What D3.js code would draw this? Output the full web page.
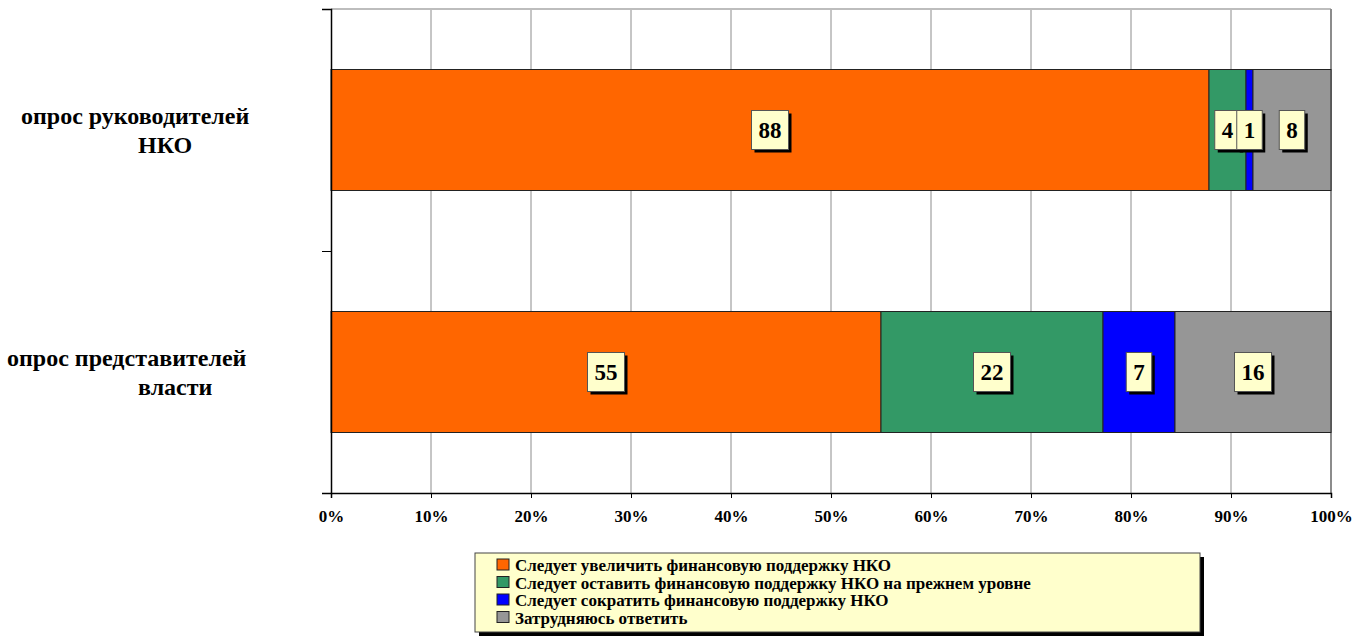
<!DOCTYPE html>
<html>
<head>
<meta charset="utf-8">
<script src="https://cdn.jsdelivr.net/npm/d3@7"></script>
<style>
  body { margin: 0; background: #fff; }
  svg { display: block; }
  svg text { font-family: "Liberation Serif", "Times New Roman", "DejaVu Serif", serif; font-weight: bold; }
</style>
</head>
<body>
<svg width="1364" height="637"></svg>
<script>
// categories, top to bottom
const groups = ["опрос руководителей НКО", "опрос представителей власти"];
const groupLines = [["опрос руководителей", "НКО"], ["опрос представителей", "власти"]];
const series = [
  "Следует увеличить финансовую поддержку НКО",
  "Следует оставить финансовую поддержку НКО на прежнем уровне",
  "Следует сократить финансовую поддержку НКО",
  "Затрудняюсь ответить"
];
// share of each answer (percent)
const nkoValues = [87.8, 3.7, 0.7, 7.8];
const govValues = [55.0, 22.2, 7.2, 15.6];
// printed labels
const nkoLabels = [88, 4, 1, 8];
const govLabels = [55, 22, 7, 16];
const tickValues = [0, 10, 20, 30, 40, 50, 60, 70, 80, 90, 100];
const colors = ["#FF6600", "#339966", "#0000FF", "#969696"];

const svg = d3.select("svg");
const pL = 331, pR = 1331, pT = 9, pB = 493;

const x = d3.scaleLinear().domain([0, 100]).range([pL, pR]);
const y = d3.scaleBand().domain(groups).range([pT, pB]).paddingInner(0.5).paddingOuter(0.25);
const yEdge = d3.scaleLinear().domain([0, groups.length]).range([pT, pB]);

const rows = [
  { name: groups[0], values: nkoValues, labels: nkoLabels },
  { name: groups[1], values: govValues, labels: govLabels }
];

// gridlines + plot border (top, right)
svg.append("g")
  .selectAll("line")
  .data(tickValues.slice(1))
  .join("line")
    .attr("x1", d => x(d)).attr("x2", d => x(d))
    .attr("y1", pT).attr("y2", pB)
    .attr("stroke", "#8c8c8c").attr("stroke-width", 1);
svg.append("line")
  .attr("x1", pL).attr("x2", pR).attr("y1", pT).attr("y2", pT)
  .attr("stroke", "#bdbdbd").attr("stroke-width", 2);
svg.append("line")
  .attr("x1", pR).attr("x2", pR).attr("y1", pT).attr("y2", pB)
  .attr("stroke", "#8c8c8c").attr("stroke-width", 2);

// stacked bars
rows.forEach(r => {
  let acc = 0;
  const segs = r.values.map((v, i) => {
    const s = { x0: acc, x1: acc + v, i: i, label: r.labels[i] };
    acc += v;
    return s;
  });
  r.segs = segs;
  svg.append("g")
    .selectAll("rect")
    .data(segs)
    .join("rect")
      .attr("x", d => x(d.x0))
      .attr("y", y(r.name))
      .attr("width", d => x(d.x1) - x(d.x0))
      .attr("height", y.bandwidth())
      .attr("fill", d => colors[d.i])
      .attr("stroke", "#222")
      .attr("stroke-width", 1);
});

// axes
const xAxis = svg.append("g")
  .attr("transform", `translate(0,${pB})`)
  .call(d3.axisBottom(x).tickValues(tickValues).tickSize(5).tickPadding(12).tickFormat(d => d + "%"));
xAxis.attr("font-family", null).attr("font-size", null);
xAxis.select(".domain").attr("stroke", "#000").attr("stroke-width", 1.5);
xAxis.selectAll(".tick line").attr("stroke", "#000");
xAxis.selectAll("text")
  .style("font-size", "17px")
  .attr("fill", "#000");

const yAxis = svg.append("g")
  .attr("transform", `translate(${pL},0)`)
  .call(d3.axisLeft(yEdge).tickValues([0, 1, 2]).tickSize(9).tickFormat(""));
yAxis.select(".domain").attr("stroke", "#000").attr("stroke-width", 1.5);
yAxis.selectAll(".tick line").attr("stroke", "#000");

// category labels
const lineX = [[21, 138], [7, 138]];
rows.forEach((r, gi) => {
  const cy = y(r.name) + y.bandwidth() / 2;
  groupLines[gi].forEach((t, li) => {
    svg.append("text")
      .attr("x", lineX[gi][li])
      .attr("y", cy - 6 + li * 29)
      .style("font-size", "24px")
      .attr("fill", "#000")
      .text(t);
  });
});

// data labels (yellow boxes with shadow)
rows.forEach(r => {
  const cy = y(r.name) + y.bandwidth() / 2;
  r.segs.forEach(s => {
    const cx = (x(s.x0) + x(s.x1)) / 2;
    const g = svg.append("g");
    const txt = String(s.label);
    const w = txt.length * 11.5 + 14;
    const h = 39;
    g.append("rect")
      .attr("x", cx - w / 2 + 3).attr("y", cy - h / 2 + 3)
      .attr("width", w).attr("height", h)
      .attr("fill", "#000");
    g.append("rect")
      .attr("x", cx - w / 2).attr("y", cy - h / 2)
      .attr("width", w).attr("height", h)
      .attr("fill", "#FFFFCC")
      .attr("stroke", "#555").attr("stroke-width", 1);
    g.append("text")
      .attr("x", cx).attr("y", cy + 8)
      .attr("text-anchor", "middle")
      .style("font-size", "23px")
      .attr("fill", "#000")
      .text(txt);
  });
});

// legend
const lg = { x: 475, y: 553, w: 725, h: 79 };
svg.append("rect")
  .attr("x", lg.x + 4).attr("y", lg.y + 4).attr("width", lg.w).attr("height", lg.h)
  .attr("fill", "#000");
svg.append("rect")
  .attr("x", lg.x).attr("y", lg.y).attr("width", lg.w).attr("height", lg.h)
  .attr("fill", "#FFFFCC").attr("stroke", "#444").attr("stroke-width", 1);
const li = svg.append("g")
  .selectAll("g")
  .data(series)
  .join("g")
    .attr("transform", (d, i) => `translate(497,${559 + i * 17.5})`);
li.append("rect")
  .attr("width", 12).attr("height", 11)
  .attr("fill", (d, i) => colors[i])
  .attr("stroke", "#222").attr("stroke-width", 1);
li.append("text")
  .attr("x", 18).attr("y", 12)
  .style("font-size", "17px")
  .attr("fill", "#000")
  .text(d => d);
</script>
</body>
</html>
